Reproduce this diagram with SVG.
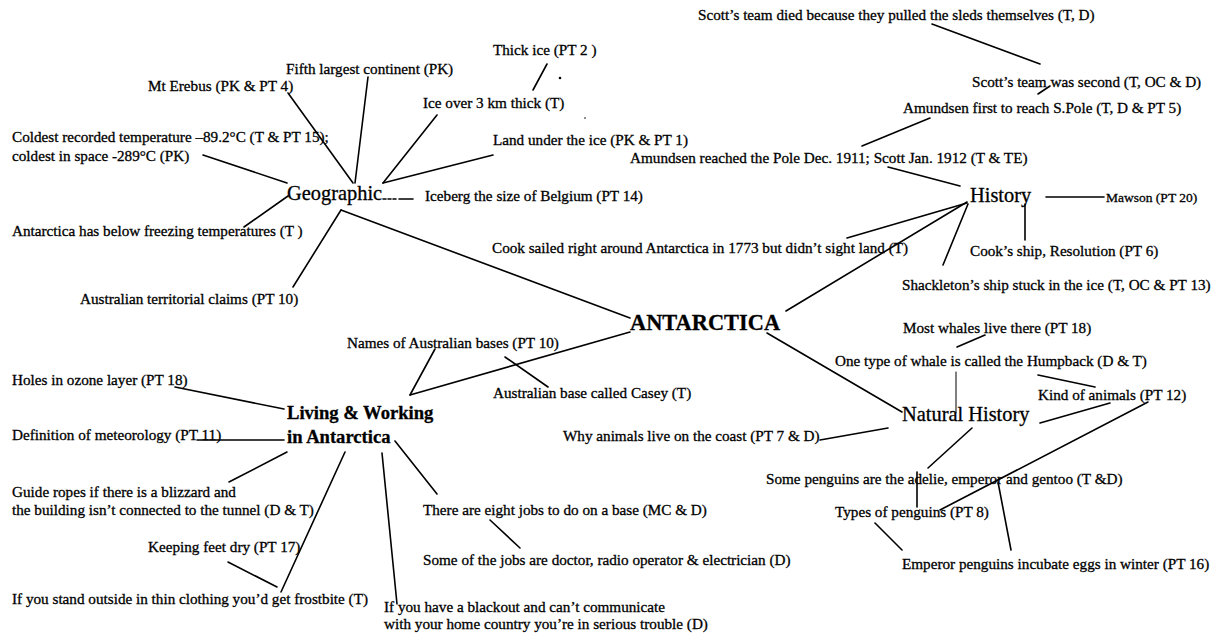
<svg xmlns="http://www.w3.org/2000/svg" width="1216" height="640" viewBox="0 0 1216 640">
  <style>
    .t { font-family: "Liberation Serif", "Times New Roman", serif; font-size: 15.2px; fill: #000; stroke: #000; stroke-width: 0.3px; }
    .h { font-size: 20.4px; }
    .b { font-weight: bold; }
    .c line, .c path { stroke: #000; stroke-width: 1.6; stroke-linecap: round; fill: none; }
    .c .thin { stroke-width: 1; }
  </style>
  <rect width="1216" height="640" fill="#fff"/>

  <!-- connectors -->
  <g id="connectors" class="c">
    <!-- Geographic branch -->
    <line x1="288" y1="93" x2="353" y2="183"/>
    <line x1="368" y1="77" x2="355" y2="183"/>
    <line x1="437" y1="115" x2="383" y2="183"/>
    <line x1="493" y1="155" x2="383" y2="183"/>
    <line x1="547" y1="64" x2="533" y2="90"/>
    <line x1="203" y1="155" x2="287" y2="183"/>
    <line x1="288" y1="196" x2="244" y2="227"/>
    <line x1="293" y1="287" x2="341" y2="210"/>
    <line x1="341" y1="210" x2="630" y2="318"/>
    <path d="M383 199h3M388 199h3M393 199h3M399 199h14" stroke-width="1.4"/>
    <!-- History branch -->
    <line x1="786" y1="311" x2="967" y2="202"/>
    <line x1="847" y1="238" x2="967" y2="203"/>
    <line x1="943" y1="265" x2="968" y2="204"/>
    <line x1="888" y1="167" x2="960" y2="186"/>
    <line x1="1025" y1="204" x2="1025" y2="240"/>
    <line x1="1046" y1="197" x2="1104" y2="197"/>
    <line x1="930" y1="118" x2="862" y2="146"/>
    <line x1="1050" y1="86" x2="1038" y2="94"/>
    <line x1="932" y1="24" x2="1040" y2="64"/>
    <!-- Natural History branch -->
    <line x1="767" y1="333" x2="902" y2="412"/>
    <line x1="957" y1="347" x2="985" y2="335"/>
    <line class="thin" x1="956" y1="372" x2="956" y2="413"/>
    <line x1="1038" y1="375" x2="1095" y2="387"/>
    <line x1="1040" y1="423" x2="1110" y2="403"/>
    <line x1="1148" y1="402" x2="940" y2="510"/>
    <line x1="820" y1="440" x2="888" y2="428"/>
    <line x1="972" y1="428" x2="928" y2="468"/>
    <line x1="917" y1="472" x2="917" y2="507"/>
    <line x1="875" y1="523" x2="902" y2="550"/>
    <line x1="998" y1="482" x2="1011" y2="550"/>
    <!-- Living & Working branch -->
    <line x1="630" y1="332" x2="410" y2="395"/>
    <line x1="435" y1="349" x2="410" y2="395"/>
    <line x1="505" y1="357" x2="548" y2="387"/>
    <line x1="175" y1="387" x2="284" y2="409"/>
    <line x1="197" y1="440" x2="284" y2="440"/>
    <line x1="287" y1="452" x2="229" y2="482"/>
    <line x1="345" y1="452" x2="281" y2="592"/>
    <line x1="228" y1="562" x2="277" y2="587"/>
    <line x1="382" y1="453" x2="397" y2="604"/>
    <line x1="395" y1="441" x2="437" y2="494"/>
    <line x1="490" y1="520" x2="520" y2="548"/>
  </g>

  <!-- stray print marks -->
  <g id="marks">
    <circle cx="560" cy="78" r="1.3"/>
    <circle cx="585" cy="118" r="0.8"/>
  </g>

  <!-- centre -->
  <g id="n-antarctica"><text class="t b" x="630" y="330" style="font-size:22.4px">ANTARCTICA</text></g>

  <!-- Geographic -->
  <g id="n-geographic"><text class="t h" x="287" y="200">Geographic</text></g>
  <g id="g-erebus"><text class="t" x="148" y="91">Mt Erebus (PK &amp; PT 4)</text></g>
  <g id="g-fifth"><text class="t" x="286" y="74">Fifth largest continent (PK)</text></g>
  <g id="g-thick"><text class="t" x="493" y="55">Thick ice (PT 2 )</text></g>
  <g id="g-iceover"><text class="t" x="423" y="108">Ice over 3 km thick (T)</text></g>
  <g id="g-land"><text class="t" x="493" y="145">Land under the ice (PK &amp; PT 1)</text></g>
  <g id="g-coldest">
    <text class="t" x="12" y="142">Coldest recorded temperature –89.2°C (T &amp; PT 15);</text>
    <text class="t" x="12" y="161">coldest in space -289°C (PK)</text>
  </g>
  <g id="g-iceberg"><text class="t" x="425" y="201">Iceberg the size of Belgium (PT 14)</text></g>
  <g id="g-freezing"><text class="t" x="12" y="236">Antarctica has below freezing temperatures (T )</text></g>
  <g id="g-claims"><text class="t" x="80" y="304">Australian territorial claims (PT 10)</text></g>

  <!-- History -->
  <g id="n-history"><text class="t h" x="970" y="202">History</text></g>
  <g id="h-scottdied"><text class="t" x="698" y="20">Scott’s team died because they pulled the sleds themselves (T, D)</text></g>
  <g id="h-second"><text class="t" x="972" y="87">Scott’s team was second (T, OC &amp; D)</text></g>
  <g id="h-first"><text class="t" x="903" y="113">Amundsen first to reach S.Pole (T, D &amp; PT 5)</text></g>
  <g id="h-reached"><text class="t" x="630" y="163">Amundsen reached the Pole Dec. 1911; Scott Jan. 1912 (T &amp; TE)</text></g>
  <g id="h-mawson"><text class="t" x="1106" y="202" style="font-size:13.5px">Mawson (PT 20)</text></g>
  <g id="h-cooksailed"><text class="t" x="492" y="253">Cook sailed right around Antarctica in 1773 but didn’t sight land (T)</text></g>
  <g id="h-cookship"><text class="t" x="970" y="256">Cook’s ship, Resolution (PT 6)</text></g>
  <g id="h-shackleton"><text class="t" x="902" y="290">Shackleton’s ship stuck in the ice (T, OC &amp; PT 13)</text></g>

  <!-- Natural History -->
  <g id="n-natural"><text class="t h" x="902" y="421">Natural History</text></g>
  <g id="a-whales"><text class="t" x="903" y="333">Most whales live there (PT 18)</text></g>
  <g id="a-humpback"><text class="t" x="835" y="366">One type of whale is called the Humpback (D &amp; T)</text></g>
  <g id="a-kind"><text class="t" x="1038" y="400">Kind of animals (PT 12)</text></g>
  <g id="a-coast"><text class="t" x="563" y="441">Why animals live on the coast (PT 7 &amp; D)</text></g>
  <g id="a-somepenguins"><text class="t" x="766" y="484">Some penguins are the adelie, emperor and gentoo (T &amp;D)</text></g>
  <g id="a-types"><text class="t" x="835" y="517">Types of penguins (PT 8)</text></g>
  <g id="a-emperor"><text class="t" x="902" y="569">Emperor penguins incubate eggs in winter (PT 16)</text></g>

  <!-- Living & Working in Antarctica -->
  <g id="n-living">
    <text class="t b" x="287" y="419" style="font-size:18.6px">Living &amp; Working</text>
    <text class="t b" x="287" y="443" style="font-size:18.6px">in Antarctica</text>
  </g>
  <g id="l-names"><text class="t" x="347" y="348">Names of Australian bases (PT 10)</text></g>
  <g id="l-casey"><text class="t" x="493" y="398">Australian base called Casey (T)</text></g>
  <g id="l-ozone"><text class="t" x="12" y="385">Holes in ozone layer (PT 18)</text></g>
  <g id="l-meteorology"><text class="t" x="12" y="440">Definition of meteorology (PT 11)</text></g>
  <g id="l-ropes">
    <text class="t" x="12" y="497">Guide ropes if there is a blizzard and</text>
    <text class="t" x="12" y="515">the building isn’t connected to the tunnel (D &amp; T)</text>
  </g>
  <g id="l-feet"><text class="t" x="148" y="552">Keeping feet dry (PT 17)</text></g>
  <g id="l-frostbite"><text class="t" x="12" y="604">If you stand outside in thin clothing you’d get frostbite (T)</text></g>
  <g id="l-blackout">
    <text class="t" x="384" y="612">If you have a blackout and can’t communicate</text>
    <text class="t" x="384" y="629">with your home country you’re in serious trouble (D)</text>
  </g>
  <g id="l-jobs"><text class="t" x="423" y="515">There are eight jobs to do on a base (MC &amp; D)</text></g>
  <g id="l-somejobs"><text class="t" x="423" y="565">Some of the jobs are doctor, radio operator &amp; electrician (D)</text></g>
</svg>
